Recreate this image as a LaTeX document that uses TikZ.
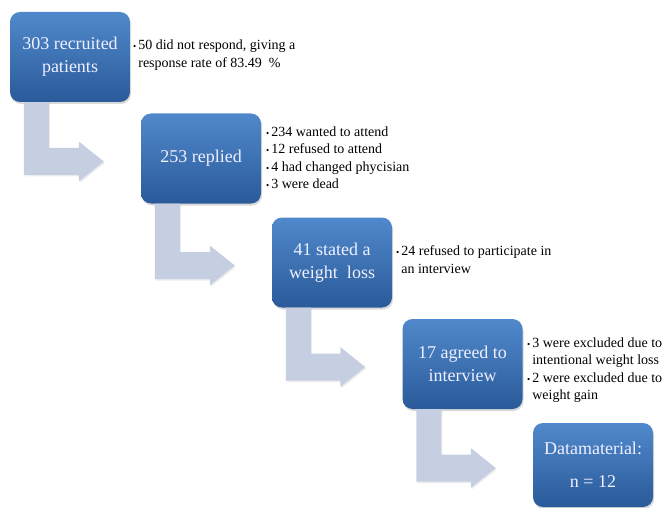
\documentclass[tikz,border=0pt]{standalone}
\usepackage{fontspec}
\setmainfont{Liberation Serif}
\usetikzlibrary{calc,shadows}
\definecolor{boxtop}{HTML}{5089CB}
\definecolor{boxbot}{HTML}{2A5A9A}
\definecolor{flow}{HTML}{C6CFE2}
% bent arrow from the bottom of one stage to the left side of the next
\newcommand{\bent}[2]{%
\fill[flow,drop shadow={opacity=0.15,shadow xshift=1pt,shadow yshift=-1.5pt}]
  let \p1=($(#1.south west)+(14,0)$), \p2=($(#2.west)+(-37,3)$) in
  (\x1,\y1) -- (\x1+25pt,\y1) -- (\x1+25pt,\y2+13.5pt) -- (\x2-25pt,\y2+13.5pt)
  -- (\x2-25pt,\y2+20pt) -- (\x2,\y2) -- (\x2-25pt,\y2-20pt)
  -- (\x2-25pt,\y2-13.5pt) -- (\x1,\y2-13.5pt) -- cycle;}
\newcommand{\bul}{{\fontsize{9}{9}\selectfont\textbullet}}
\begin{document}
\begin{tikzpicture}[x=1pt,y=-1pt]
\tikzstyle{stage}=[rectangle,rounded corners=10pt,minimum width=120pt,minimum height=90pt,
  top color=boxtop,bottom color=boxbot,text=white!94!blue,align=center,
  font=\fontsize{18}{23}\selectfont,
  drop shadow={opacity=0.3,shadow xshift=1pt,shadow yshift=-2pt}]
\tikzstyle{note}=[anchor=west,inner sep=0pt,align=left,font=\fontsize{14}{17.5}\selectfont]
\useasboundingbox (0,0) rectangle (667,508);
\node[stage](s1) at (70,57) {303 recruited\\patients};
\node[stage](s2) at (201,158.5) {253 replied};
\node[stage](s3) at (332,262.5) {41 stated a\\weight\ \ loss};
\node[stage](s4) at (462.5,364) {17 agreed to\\interview};
\node[stage,minimum height=84pt](s5) at (593,465) {Datamaterial:\\[10pt]n = 12};
\bent{s1}{s2}
\bent{s2}{s3}
\bent{s3}{s4}
\bent{s4}{s5}
\node[note](n1) at (133,55) {\begin{tabular}{@{}l@{\hspace{2pt}}l@{}}
\bul & 50\ did not respond, giving a\\
 & response rate of 83.49\ \ \%\end{tabular}};
\node[note](n2) at (266,159) {\begin{tabular}{@{}l@{\hspace{2pt}}l@{}}
\bul & 234\ wanted to attend\\
\bul & 12\ refused to attend\\
\bul & 4 had changed phycisian\\
\bul & 3 were dead\end{tabular}};
\node[note](n3) at (396,261) {\begin{tabular}{@{}l@{\hspace{2pt}}l@{}}
\bul & 24\ refused to participate in\\
 & an interview\end{tabular}};
\node[note](n4) at (527,370) {\begin{tabular}{@{}l@{\hspace{2pt}}l@{}}
\bul & 3 were excluded due to\\
 & intentional weight loss\\
\bul & 2 were excluded due to\\
 & weight gain\end{tabular}};
\end{tikzpicture}
\end{document}
